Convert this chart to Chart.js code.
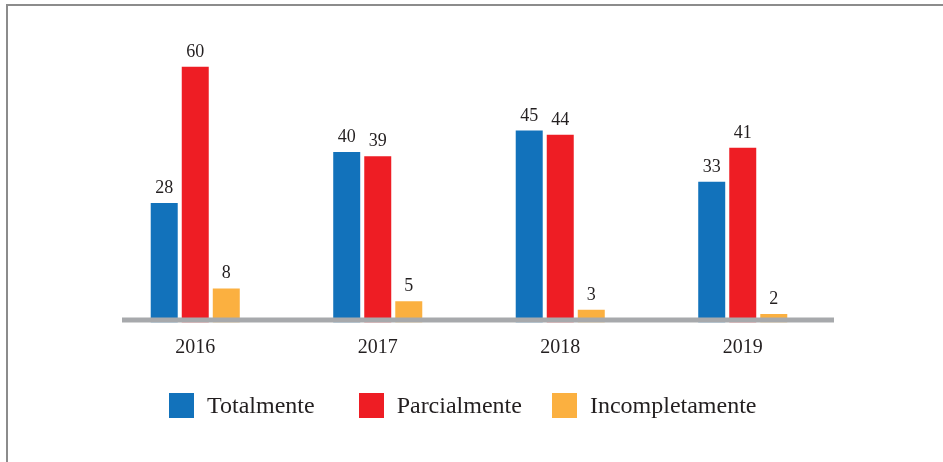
<!DOCTYPE html>
<html>
<head>
<meta charset="utf-8">
<script src="https://cdn.jsdelivr.net/npm/chart.js@4.4.0/dist/chart.umd.min.js"></script>
<style>
  html, body { margin: 0; padding: 0; background: #fff; }
  #wrap { position: relative; width: 943px; height: 462px; }
  #frame { position: absolute; left: 6px; top: 4px; right: 0; bottom: 0;
           border-left: 2px solid #8c8c8c; border-top: 2px solid #8c8c8c; pointer-events: none; }
  #leyenda { position: absolute; left: 169px; top: 392px; display: flex; align-items: center;
             font-family: 'Liberation Serif', 'DejaVu Serif', serif; font-size: 24px; color: #231f20; }
  #leyenda .item { display: flex; align-items: center; }
  #leyenda .item:nth-child(1) { margin-right: 44px; }
  #leyenda .item:nth-child(2) { margin-right: 30px; }
  #leyenda .caja { width: 25px; height: 25px; margin-right: 13px; }
</style>
</head>
<body>
<div id="wrap">
  <canvas id="myChart" width="943" height="462"></canvas>
  <div id="leyenda"></div>
  <div id="frame"></div>
</div>
<script>
// datos
var anos = ["2016", "2017", "2018", "2019"];
var totalmente = [28, 40, 45, 33];
var parcialmente = [60, 39, 44, 41];
var incompletamente = [8, 5, 3, 2];

var serif = "'Liberation Serif', 'DejaVu Serif', serif";

// numeros encima de las barras
var etiquetas = {
    id: 'etiquetas',
    afterDatasetsDraw: function (chart) {
        var ctx = chart.ctx;
        ctx.save();
        ctx.font = "18px " + serif;
        ctx.fillStyle = "#231f20";
        ctx.textAlign = "center";
        ctx.textBaseline = "alphabetic";
        chart.data.datasets.forEach(function (ds, i) {
            chart.getDatasetMeta(i).data.forEach(function (bar, j) {
                ctx.fillText(ds.data[j], bar.x, bar.y - 10);
            });
        });
        ctx.restore();
    }
};

// linea gris de la base
var linea = {
    id: 'linea',
    afterDatasetsDraw: function (chart) {
        var a = chart.chartArea;
        var ctx = chart.ctx;
        ctx.save();
        ctx.fillStyle = "#a7a9ac";
        ctx.fillRect(a.left + 18, a.bottom - 5, a.right - a.left - 18, 5);
        ctx.restore();
    }
};

var totalChart = new Chart("myChart", {
    type: "bar",
    data: {
        labels: anos,
        datasets: [
            { label: "Totalmente", data: totalmente, backgroundColor: "#1272bb" },
            { label: "Parcialmente", data: parcialmente, backgroundColor: "#ee1d24" },
            { label: "Incompletamente", data: incompletamente, backgroundColor: "#fbb040" }
        ]
    },
    options: {
        responsive: false,
        animation: false,
        events: [],
        layout: { padding: { left: 104, right: 109, top: 24, bottom: 88.5 } },
        datasets: { bar: { categoryPercentage: 0.51, barPercentage: 0.87 } },
        scales: {
            x: {
                grid: { display: false, drawTicks: false },
                border: { display: false },
                ticks: { color: "#231f20", font: { family: serif, size: 20 }, padding: 13.5 }
            },
            y: { display: false, min: 0, max: 70 }
        },
        plugins: {
            legend: { display: false },
            tooltip: { enabled: false }
        }
    },
    plugins: [linea, etiquetas]
});

// leyenda en html
var leyenda = document.getElementById('leyenda');
totalChart.data.datasets.forEach(function (ds) {
    var item = document.createElement('div');
    item.className = 'item';
    var caja = document.createElement('span');
    caja.className = 'caja';
    caja.style.background = ds.backgroundColor;
    var texto = document.createElement('span');
    texto.textContent = ds.label;
    item.appendChild(caja);
    item.appendChild(texto);
    leyenda.appendChild(item);
});
</script>
</body>
</html>
